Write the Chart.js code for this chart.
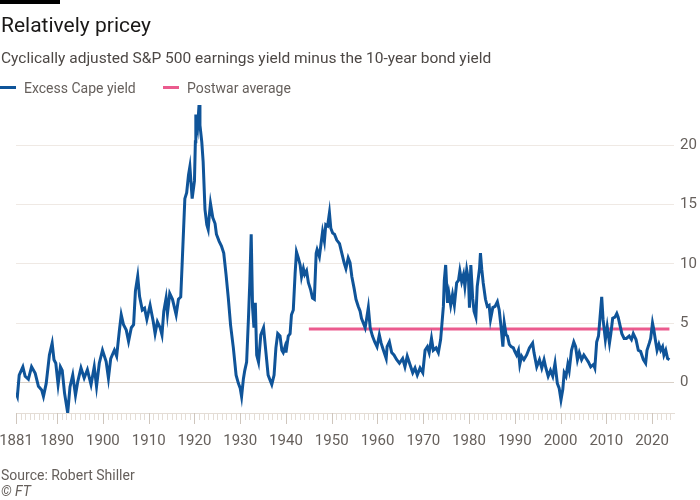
<!DOCTYPE html>
<html>
<head>
<meta charset="utf-8">
<script src="https://cdn.jsdelivr.net/npm/chart.js@4.4.1/dist/chart.umd.min.js"></script>
<style>
  html, body { margin: 0; padding: 0; background: #fff; }
  #wrap { position: relative; width: 700px; height: 500px; overflow: hidden; font-family: Roboto, "Noto Sans", sans-serif; }
  #chart-box { position: absolute; left: 0; top: 0; width: 700px; height: 500px; }
  .txt { position: absolute; white-space: nowrap; line-height: 1; pointer-events: none; }
  .bar { position: absolute; left: 0; top: 0; width: 60px; height: 4px; background: #000; }
  .title { left: 1px; top: 15px; font-size: 21px; color: #1a1817; }
  .subtitle { left: 1px; top: 51px; font-size: 15.5px; color: #4d4845; }
  .legend { top: 81px; font-size: 14px; color: #66605c; }
  .swatch { position: absolute; top: 86px; width: 16px; height: 3px; }
  .source { left: 1px; top: 468px; font-size: 14px; color: #66605c; }
  .ft { left: 1px; top: 484px; font-size: 14px; color: #66605c; font-style: italic; }
</style>
</head>
<body>
<div id="wrap">
  <div id="chart-box"><canvas id="chart"></canvas></div>
  <div class="bar"></div>
  <div class="txt title">Relatively pricey</div>
  <div class="txt subtitle">Cyclically adjusted S&amp;P 500 earnings yield minus the 10-year bond yield</div>
  <div class="swatch" style="left:0;background:#0f5499"></div>
  <div class="txt legend" style="left:24px">Excess Cape yield</div>
  <div class="swatch" style="left:163px;background:#eb5b8e"></div>
  <div class="txt legend" style="left:187px">Postwar average</div>
  <div class="txt source">Source: Robert Shiller</div>
  <div class="txt ft">© FT</div>
</div>
<script>
// 数据
const years = [
  1881.0, 1881.3, 1881.7, 1882.5, 1883.0, 1883.7, 1884.4, 1885.2, 1885.9, 1886.6,
  1887.0, 1887.6, 1888.3, 1888.9, 1889.3, 1889.7, 1890.2, 1890.7, 1891.1, 1891.6,
  1892.3, 1892.8, 1893.4, 1894.0, 1894.5, 1895.2, 1895.9, 1896.6, 1897.4, 1898.1,
  1898.6, 1899.2, 1899.9, 1900.7, 1901.2, 1901.7, 1902.5, 1903.0, 1903.6, 1904.0,
  1904.5, 1905.1, 1905.6, 1906.2, 1906.7, 1907.1, 1907.6, 1908.0, 1908.6, 1909.1,
  1909.6, 1910.3, 1911.0, 1911.4, 1911.9, 1912.5, 1912.9, 1913.3, 1913.8, 1914.1,
  1914.6, 1915.2, 1916.0, 1916.5, 1917.0, 1917.3, 1917.9, 1918.3, 1918.7, 1919.0,
  1919.5, 1920.0, 1920.2, 1920.3, 1920.7, 1921.0, 1921.2, 1921.6, 1921.9, 1922.3,
  1922.7, 1923.0, 1923.2, 1923.5, 1924.0, 1924.5, 1924.8, 1925.4, 1925.9, 1926.4,
  1926.9, 1927.4, 1927.9, 1928.5, 1929.1, 1929.6, 1930.0, 1930.3, 1930.7, 1931.0,
  1931.4, 1931.8, 1932.1, 1932.4, 1932.7, 1933.0, 1933.3, 1933.6, 1934.0, 1934.5,
  1935.1, 1935.6, 1936.1, 1936.9, 1937.4, 1937.8, 1938.2, 1938.7, 1939.1, 1939.4,
  1939.8, 1940.0, 1940.5, 1940.9, 1941.2, 1941.6, 1942.0, 1942.3, 1942.7, 1943.1,
  1943.4, 1943.8, 1944.1, 1944.5, 1944.9, 1945.4, 1945.8, 1946.2, 1946.6, 1946.8,
  1947.3, 1947.6, 1948.0, 1948.4, 1948.7, 1949.1, 1949.5, 1949.8, 1950.2, 1950.6,
  1951.1, 1951.7, 1952.2, 1952.7, 1953.1, 1953.6, 1954.0, 1954.4, 1954.9, 1955.3,
  1955.8, 1956.2, 1956.5, 1956.9, 1957.3, 1957.6, 1958.0, 1958.4, 1958.9, 1959.4,
  1959.9, 1960.4, 1960.8, 1961.3, 1961.9, 1962.1, 1962.6, 1963.1, 1963.6, 1964.2,
  1964.8, 1965.5, 1966.0, 1966.5, 1967.1, 1967.7, 1968.2, 1968.7, 1969.3, 1969.9,
  1970.4, 1970.9, 1971.3, 1971.8, 1972.2, 1972.8, 1973.3, 1973.8, 1974.1, 1974.4,
  1974.6, 1974.9, 1975.3, 1975.6, 1976.0, 1976.4, 1976.8, 1977.3, 1977.7, 1978.0,
  1978.4, 1978.8, 1979.1, 1979.5, 1979.9, 1980.1, 1980.4, 1980.8, 1981.1, 1981.5,
  1981.8, 1982.3, 1982.5, 1982.8, 1983.1, 1983.6, 1984.0, 1984.4, 1984.7, 1985.2,
  1985.7, 1986.2, 1986.6, 1987.0, 1987.4, 1987.7, 1988.1, 1988.4, 1988.8, 1989.2,
  1989.7, 1990.0, 1990.4, 1990.8, 1991.1, 1991.5, 1992.0, 1992.6, 1993.2, 1993.9,
  1994.2, 1994.8, 1995.4, 1995.9, 1996.4, 1996.8, 1997.3, 1997.8, 1998.3, 1998.8,
  1999.3, 1999.7, 2000.1, 2000.5, 2000.8, 2001.2, 2001.6, 2001.9, 2002.4, 2002.9,
  2003.3, 2003.7, 2004.1, 2004.6, 2005.1, 2005.6, 2006.1, 2006.6, 2007.2, 2007.5,
  2007.9, 2008.3, 2008.6, 2009.0, 2009.3, 2009.8, 2010.2, 2010.7, 2011.0, 2011.4,
  2011.9, 2012.3, 2012.6, 2013.0, 2013.4, 2013.9, 2014.4, 2015.0, 2015.5, 2015.9,
  2016.5, 2017.0, 2017.5, 2018.1, 2018.6, 2018.9, 2019.4, 2019.7, 2020.1, 2020.4,
  2020.8, 2021.1, 2021.5, 2021.9, 2022.3, 2022.6, 2023.0, 2023.4, 2023.8
];

const excessYield = [
  -0.9, -1.2, 0.6, 1.3, 0.5, 0.25, 1.3, 0.75, -0.35, -0.65,
  -1.2, -0.1, 2.3, 3.3, 1.9, 1.6, -0.2, 1.3, 1.0, -0.9,
  -2.6, -0.4, 0.6, -1.1, 0.05, 1.2, 0.35, 1.05, -0.2, 1.3,
  -0.35, 1.6, 2.7, 1.75, 0.35, 2.0, 2.7, 2.2, 4.4, 5.7,
  4.85, 4.4, 3.45, 4.6, 4.85, 7.7, 8.95, 7.25, 6.1, 6.25,
  5.3, 6.5, 5.1, 4.1, 5.1, 4.6, 4.0, 6.0, 7.1, 5.8,
  7.5, 7.0, 5.7, 7.0, 7.2, 9.9, 15.5, 16.0, 17.5, 18.2,
  15.5, 17.0, 20.3, 22.6, 21.6, 23.4, 21.7, 20.3, 18.6, 14.6,
  13.3, 12.9, 13.9, 15.1, 13.9, 13.4, 12.5, 11.9, 11.5, 10.9,
  9.1, 7.1, 4.8, 2.9, 0.6, -0.1, -0.5, -1.2, 0.3, 1.0,
  1.7, 5.4, 8.5, 12.5, 6.3, 4.6, 6.7, 2.3, 1.7, 4.0,
  4.6, 2.6, 0.6, -0.2, 0.6, 2.9, 4.1, 3.9, 2.7, 2.5,
  3.0, 2.5, 3.9, 4.1, 5.7, 6.1, 9.2, 11.0, 10.5, 9.9,
  8.9, 9.6, 9.1, 9.4, 8.4, 7.8, 7.1, 7.0, 10.9, 11.2,
  10.6, 11.5, 12.7, 11.9, 13.3, 13.2, 14.3, 13.0, 12.6, 12.5,
  12.0, 11.7, 10.9, 10.1, 9.6, 10.5, 10.1, 8.9, 7.9, 7.0,
  6.4, 6.0, 5.4, 5.0, 4.6, 5.3, 6.3, 4.6, 3.9, 3.4,
  3.0, 4.0, 3.3, 2.7, 2.0, 3.0, 3.4, 2.5, 2.3, 1.9,
  1.6, 2.0, 1.3, 2.2, 1.5, 0.8, 1.2, 0.6, 1.2, 0.8,
  2.7, 3.0, 2.5, 3.7, 2.7, 2.9, 2.5, 3.6, 5.0, 6.4,
  8.6, 9.9, 6.7, 7.5, 6.5, 7.4, 6.5, 8.4, 8.6, 9.4,
  8.5, 9.1, 8.1, 9.5, 8.6, 6.3, 9.9, 7.1, 6.0, 5.5,
  8.1, 9.6, 10.9, 9.5, 8.4, 7.0, 6.4, 6.5, 5.3, 6.3,
  6.4, 6.8, 6.1, 4.7, 3.0, 5.0, 4.0, 3.9, 3.2, 3.0,
  2.9, 2.6, 2.3, 2.7, 1.5, 2.2, 1.9, 2.3, 2.9, 3.3,
  2.5, 1.3, 1.9, 1.2, 1.9, 1.2, 0.5, 1.0, 0.5, 1.6,
  -0.1, -0.5, -1.5, -0.6, 0.8, 0.5, 1.5, 1.0, 2.7, 3.4,
  3.0, 1.9, 2.5, 1.9, 2.3, 2.0, 1.7, 1.3, 1.5, 1.2,
  3.4, 3.9, 5.3, 7.2, 5.3, 3.6, 4.7, 3.3, 4.1, 5.4,
  5.5, 5.8, 5.5, 4.8, 4.1, 3.7, 3.7, 3.9, 3.6, 4.1,
  3.6, 2.7, 2.6, 1.9, 1.6, 2.7, 3.3, 3.7, 5.0, 4.4,
  3.4, 2.7, 3.2, 2.7, 3.0, 2.3, 2.7, 2.0, 1.9
];

// 战后平均值
const postwarYears = [1945, 2023.8];
const postwarAverage = 4.49;

// 坐标轴刻度
const labelYears = [1881, 1890, 1900, 1910, 1920, 1930, 1940, 1950, 1960, 1970, 1980, 1990, 2000, 2010, 2020];
const yTicks = [0, 5, 10, 15, 20];
const firstYear = 1881;
const lastTickYear = 2024;

// 每年一个小刻度，带标签的年份用长刻度
const yearTicksPlugin = {
  id: 'yearTicks',
  afterDraw(chart) {
    const xScale = chart.scales.x;
    const ctx = chart.ctx;
    const bottom = chart.chartArea.bottom;
    ctx.save();
    ctx.lineWidth = 1;
    for (let yr = firstYear; yr <= lastTickYear; yr++) {
      const major = labelYears.includes(yr);
      const px = Math.round(xScale.getPixelForValue(yr)) + 0.5;
      ctx.strokeStyle = major ? '#cfc6bd' : '#e4ddd6';
      ctx.beginPath();
      ctx.moveTo(px, bottom);
      ctx.lineTo(px, bottom + (major ? 11 : 7));
      ctx.stroke();
    }
    ctx.restore();
  }
};

const ctx = document.getElementById('chart').getContext('2d');
new Chart(ctx, {
  type: 'line',
  data: {
    datasets: [
      {
        label: 'Excess Cape yield',
        data: years.map((yr, i) => ({ x: yr, y: excessYield[i] })),
        borderColor: '#0f5499',
        borderWidth: 3,
        pointRadius: 0,
        tension: 0,
        fill: false
      },
      {
        label: 'Postwar average',
        data: postwarYears.map(yr => ({ x: yr, y: postwarAverage })),
        borderColor: '#eb5b8e',
        borderWidth: 3,
        pointRadius: 0,
        fill: false
      }
    ]
  },
  options: {
    responsive: true,
    maintainAspectRatio: false,
    animation: false,
    layout: { padding: { left: 16, top: 98, right: 0, bottom: 0 } },
    plugins: {
      legend: { display: false },
      title: { display: false },
      tooltip: { enabled: false }
    },
    scales: {
      x: {
        type: 'linear',
        min: 1881,
        max: 2024.8,
        afterBuildTicks: scale => { scale.ticks = labelYears.map(v => ({ value: v })); },
        afterFit: scale => { scale.height = 87; scale.paddingLeft = 0; scale.paddingRight = 0; },
        grid: { display: false },
        border: { display: true, color: '#e4ddd6', width: 1 },
        ticks: {
          autoSkip: false,
          maxRotation: 0,
          padding: 11,
          color: '#66605c',
          font: { family: 'Roboto', size: 15 },
          callback: v => String(v)
        }
      },
      y: {
        position: 'right',
        min: -2.6,
        max: 24,
        afterBuildTicks: scale => { scale.ticks = yTicks.map(v => ({ value: v })); },
        afterFit: scale => { scale.width = 26; },
        grid: {
          drawTicks: false,
          color: c => (c.tick && c.tick.value === 0 ? '#d9d0c7' : '#efe9e4'),
          lineWidth: 1
        },
        border: { display: false },
        ticks: {
          padding: 6,
          color: '#66605c',
          font: { family: 'Roboto', size: 15 }
        }
      }
    }
  },
  plugins: [yearTicksPlugin]
});
</script>
</body>
</html>
